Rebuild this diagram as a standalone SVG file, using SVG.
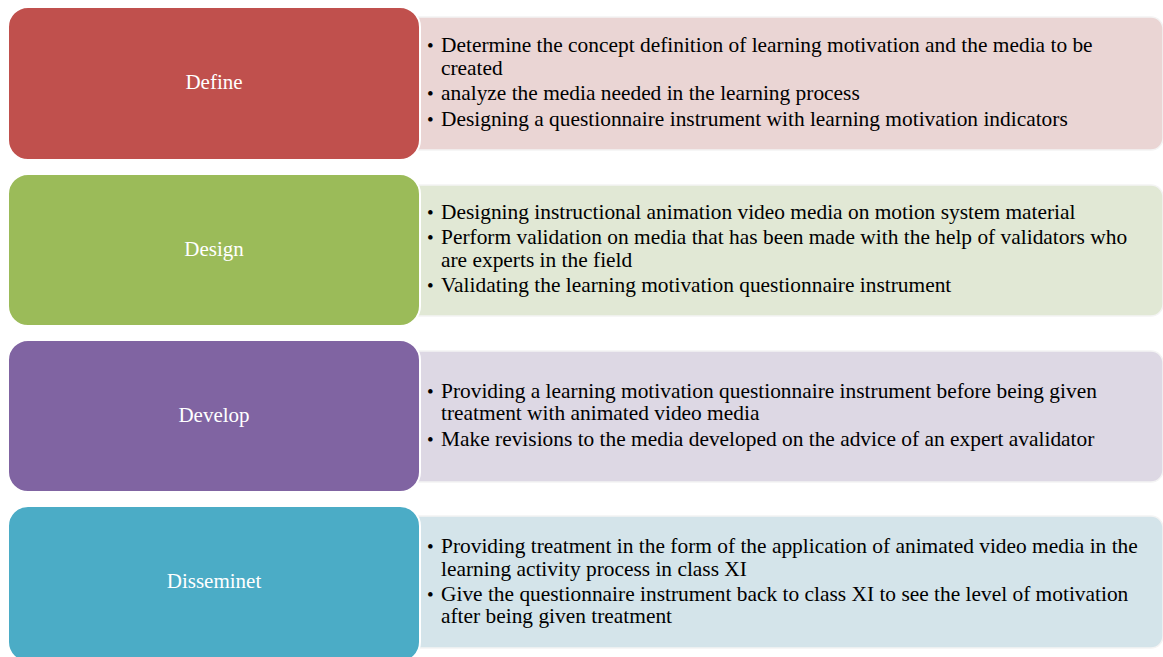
<svg xmlns="http://www.w3.org/2000/svg" width="1163" height="657" viewBox="0 0 1163 657">
<style>
.main{stroke:#ffffff;stroke-width:2}
.sub{stroke:#f4f4f4;stroke-width:1.5}
.title{font-family:"Liberation Serif",serif;font-size:21px;fill:#ffffff;text-anchor:middle}
.body{font-family:"Liberation Serif",serif;font-size:21.4px;fill:#000000}
.bul{font-family:"Liberation Serif",serif;font-size:19px;fill:#000000}
</style>
<rect width="1163" height="657" fill="#ffffff"/>
<g id="define">
<rect class="sub" x="400" y="17" width="763" height="133" rx="12" fill="#EAD5D4"/>
<rect class="main" x="8" y="7" width="412" height="153" rx="20" fill="#C0504D"/>
<text class="title" x="214" y="89">Define</text>
<text class="bul"><tspan x="427" y="52">•</tspan><tspan x="427" y="100">•</tspan><tspan x="427" y="126">•</tspan></text>
<text class="body"><tspan x="441" y="52">Determine the concept definition of learning motivation and the media to be</tspan><tspan x="441" y="75">created</tspan><tspan x="441" y="100">analyze the media needed in the learning process</tspan><tspan x="441" y="126">Designing a questionnaire instrument with learning motivation indicators</tspan></text>
</g>
<g id="design">
<rect class="sub" x="400" y="185" width="763" height="131" rx="12" fill="#E1E8D5"/>
<rect class="main" x="8" y="174" width="412" height="152" rx="20" fill="#9BBB59"/>
<text class="title" x="214" y="256">Design</text>
<text class="bul"><tspan x="427" y="219">•</tspan><tspan x="427" y="244">•</tspan><tspan x="427" y="292">•</tspan></text>
<text class="body"><tspan x="441" y="219">Designing instructional animation video media on motion system material</tspan><tspan x="441" y="244">Perform validation on media that has been made with the help of validators who</tspan><tspan x="441" y="267">are experts in the field</tspan><tspan x="441" y="292">Validating the learning motivation questionnaire instrument</tspan></text>
</g>
<g id="develop">
<rect class="sub" x="400" y="351" width="763" height="131" rx="12" fill="#DDD8E4"/>
<rect class="main" x="8" y="340" width="412" height="152" rx="20" fill="#8064A2"/>
<text class="title" x="214" y="422">Develop</text>
<text class="bul"><tspan x="427" y="398">•</tspan><tspan x="427" y="446">•</tspan></text>
<text class="body"><tspan x="441" y="398">Providing a learning motivation questionnaire instrument before being given</tspan><tspan x="441" y="420">treatment with animated video media</tspan><tspan x="441" y="446">Make revisions to the media developed on the advice of an expert avalidator</tspan></text>
</g>
<g id="disseminet">
<rect class="sub" x="400" y="516" width="763" height="132" rx="12" fill="#D4E4EA"/>
<rect class="main" x="8" y="506" width="412" height="156" rx="20" fill="#4BACC6"/>
<text class="title" x="214" y="588">Disseminet</text>
<text class="bul"><tspan x="427" y="553">•</tspan><tspan x="427" y="601">•</tspan></text>
<text class="body"><tspan x="441" y="553">Providing treatment in the form of the application of animated video media in the</tspan><tspan x="441" y="576">learning activity process in class XI</tspan><tspan x="441" y="601">Give the questionnaire instrument back to class XI to see the level of motivation</tspan><tspan x="441" y="623">after being given treatment</tspan></text>
</g>
<g id="connectors"></g>
</svg>
